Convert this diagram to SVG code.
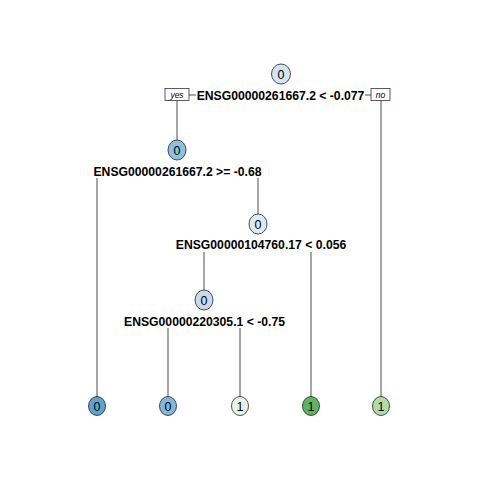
<svg xmlns="http://www.w3.org/2000/svg" width="480" height="480" viewBox="0 0 480 480">
<style>
.n{stroke:#222;stroke-width:0.8}
.t{font-family:"Liberation Sans",Arial,sans-serif;font-size:12.5px;text-anchor:middle}
.s{font-family:"Liberation Sans",Arial,sans-serif;font-size:12.2px;font-weight:bold;text-anchor:middle}
.yn{font-family:"Liberation Sans",Arial,sans-serif;font-size:8.5px;font-style:italic;text-anchor:middle}
.e{stroke:#000;stroke-width:0.7;fill:none}
</style>
<rect width="480" height="480" fill="#fff"/>
<g id="connectors">
<path class="e" d="M177 101V140M189 95H196M365 95H371M381 101V397"/>
<path class="e" d="M97 178V397M258 178V214"/>
<path class="e" d="M204 252V290M311 252V397"/>
<path class="e" d="M168 328V397M240 328V397"/>
</g>
<g id="root">
<ellipse class="n" cx="281" cy="74" rx="9.5" ry="10" fill="#D4E4F4"/>
<text class="t" x="281" y="78.5">0</text>
<text class="s" x="280.5" y="100">ENSG00000261667.2 &lt; -0.077</text>
<rect x="165" y="88.5" width="24" height="12" fill="#fff" stroke="#333" stroke-width="0.8"/>
<text class="yn" x="177" y="97.5">yes</text>
<rect x="371" y="88.5" width="19" height="12" fill="#fff" stroke="#333" stroke-width="0.8"/>
<text class="yn" x="380.5" y="97.5">no</text>
</g>
<g id="node2">
<ellipse class="n" cx="177" cy="150" rx="9" ry="10" fill="#8CC1E0"/>
<text class="t" x="177" y="154.5">0</text>
<text class="s" x="177.5" y="175.5">ENSG00000261667.2 &gt;= -0.68</text>
</g>
<g id="node3">
<ellipse class="n" cx="258" cy="224" rx="9" ry="10" fill="#DCEAF6"/>
<text class="t" x="258" y="228.5">0</text>
<text class="s" x="261" y="249">ENSG00000104760.17 &lt; 0.056</text>
</g>
<g id="node4">
<ellipse class="n" cx="204" cy="300" rx="9" ry="10" fill="#C6DBEF"/>
<text class="t" x="204" y="304.5">0</text>
<text class="s" x="204.5" y="325.5">ENSG00000220305.1 &lt; -0.75</text>
</g>
<g id="leaf1">
<ellipse class="n" cx="97" cy="406" rx="8.5" ry="9.5" fill="#5BA3D0"/>
<text class="t" x="97" y="410.5">0</text>
</g>
<g id="leaf2">
<ellipse class="n" cx="168" cy="406" rx="8.5" ry="9.5" fill="#7FB8DC"/>
<text class="t" x="168" y="410.5">0</text>
</g>
<g id="leaf3">
<ellipse class="n" cx="240" cy="406" rx="8.5" ry="9.5" fill="#E6F5E1"/>
<text class="t" x="240" y="410.5">1</text>
</g>
<g id="leaf4">
<ellipse class="n" cx="311" cy="406" rx="8.5" ry="9.5" fill="#5DB561"/>
<text class="t" x="311" y="410.5">1</text>
</g>
<g id="leaf5">
<ellipse class="n" cx="381" cy="406" rx="8.5" ry="9.5" fill="#ADDDA6"/>
<text class="t" x="381" y="410.5">1</text>
</g>
</svg>
